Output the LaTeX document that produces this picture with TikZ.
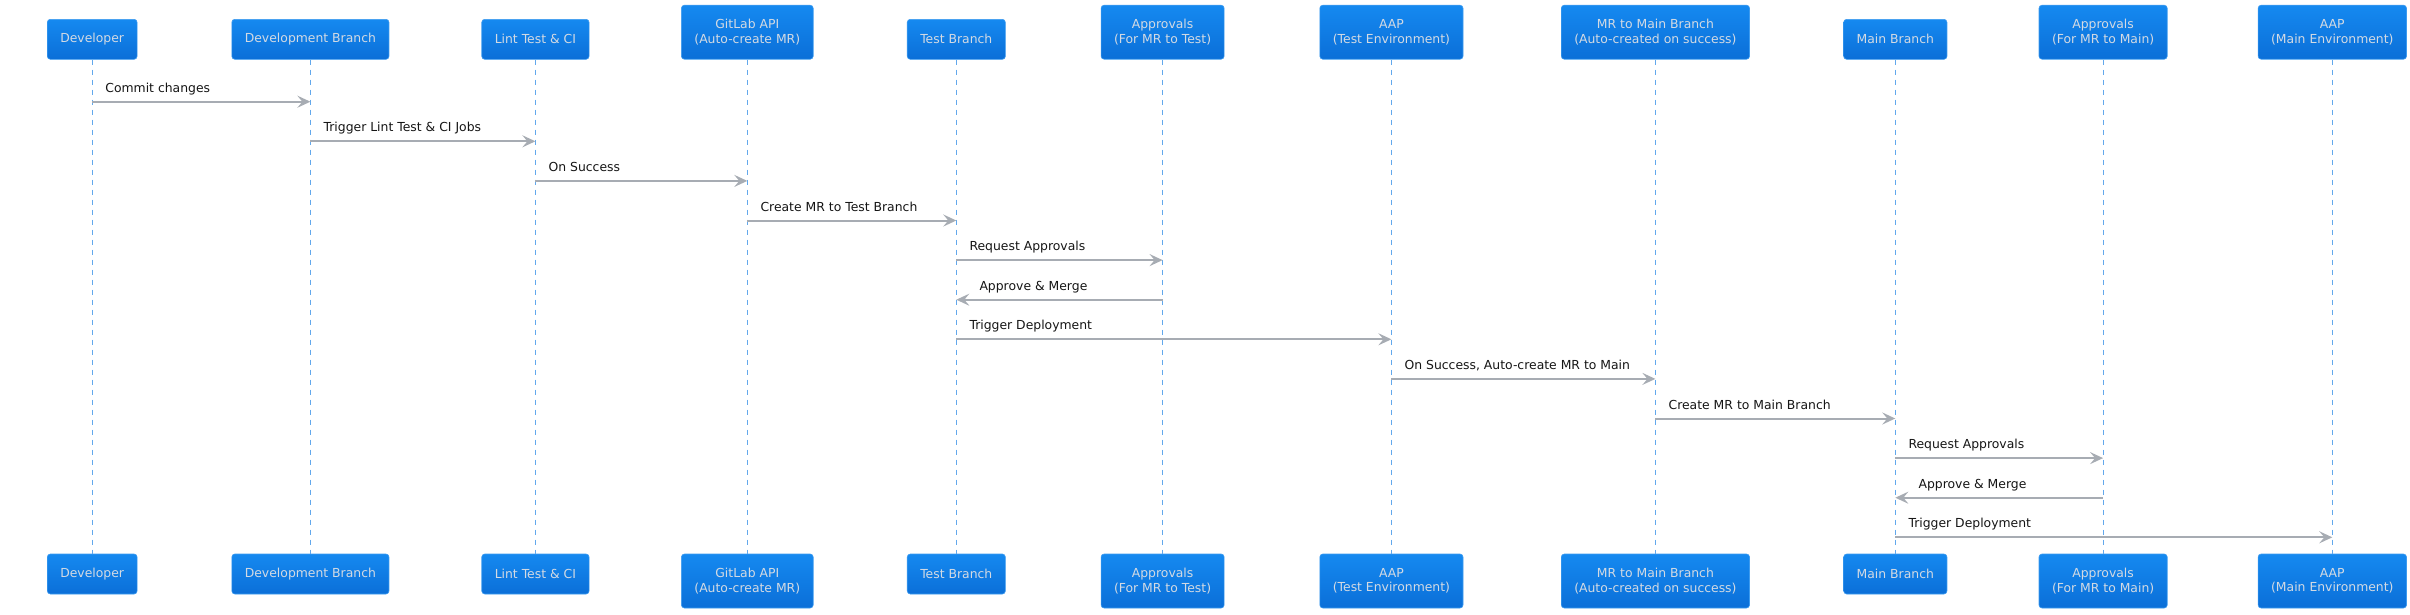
\documentclass[tikz,border=0pt]{standalone}
\usepackage{fontspec}
\setmainfont{DejaVu Sans}
\usetikzlibrary{arrows.meta,calc}
\definecolor{boxtop}{HTML}{1589F0}
\definecolor{boxbot}{HTML}{0B6FD8}
\definecolor{boxline}{HTML}{3D9BEF}
\definecolor{boxtext}{HTML}{D3DAE3}
\definecolor{lifeblue}{HTML}{62A8EC}
\definecolor{arrowgray}{HTML}{A7ACB3}
\definecolor{msgtext}{HTML}{151515}
\begin{document}
\begin{tikzpicture}[x=1pt,y=-1pt,
  actor/.style={rounded corners=3pt, top color=boxtop, bottom color=boxbot, draw=boxline, line width=0.6pt, text=boxtext, font=\fontsize{12.4}{14.5}\selectfont, align=center, inner xsep=13pt, inner ysep=0pt, minimum height=40pt},
  actortwo/.style={actor, minimum height=54pt},
  life/.style={draw=lifeblue, line width=1pt, dash pattern=on 5pt off 5pt},
  msg/.style={draw=arrowgray, line width=2pt, -{Stealth[length=13pt,width=12pt,inset=5pt]}},
  lbl/.style={font=\fontsize{12.4}{14.5}\selectfont, text=msgtext, inner sep=0pt, anchor=base west}]
\useasboundingbox (0,0) rectangle (2410,614);

% top actors
\node[actor]    (t1)  at (92.2,39.3)   {Developer};
\node[actor]    (t2)  at (310.4,39.3)  {Development Branch};
\node[actor]    (t3)  at (535.4,39.3)  {Lint Test \& CI};
\node[actortwo] (t4)  at (747.3,32.2)  {GitLab API\\(Auto-create MR)};
\node[actor]    (t5)  at (956.3,39.3)  {Test Branch};
\node[actortwo] (t6)  at (1162.6,32.2) {Approvals\\(For MR to Test)};
\node[actortwo] (t7)  at (1391.4,32.2) {AAP\\(Test Environment)};
\node[actortwo] (t8)  at (1655.4,32.2) {MR to Main Branch\\(Auto-created on success)};
\node[actor]    (t9)  at (1895.3,39.3) {Main Branch};
\node[actortwo] (t10) at (2103.1,32.2) {Approvals\\(For MR to Main)};
\node[actortwo] (t11) at (2332.3,32.2) {AAP\\(Main Environment)};

% bottom actors
\node[actor]    (b1)  at (92.2,574)   {Developer};
\node[actor]    (b2)  at (310.4,574)  {Development Branch};
\node[actor]    (b3)  at (535.4,574)  {Lint Test \& CI};
\node[actortwo] (b4)  at (747.3,581)  {GitLab API\\(Auto-create MR)};
\node[actor]    (b5)  at (956.3,574)  {Test Branch};
\node[actortwo] (b6)  at (1162.6,581) {Approvals\\(For MR to Test)};
\node[actortwo] (b7)  at (1391.4,581) {AAP\\(Test Environment)};
\node[actortwo] (b8)  at (1655.4,581) {MR to Main Branch\\(Auto-created on success)};
\node[actor]    (b9)  at (1895.3,574) {Main Branch};
\node[actortwo] (b10) at (2103.1,581) {Approvals\\(For MR to Main)};
\node[actortwo] (b11) at (2332.3,581) {AAP\\(Main Environment)};

% lifelines
\foreach \i in {1,...,11} {
  \draw[life] (t\i.south) -- (b\i.north);
}

% message rows
\foreach \r in {1,...,12} {
  \coordinate (r\r) at (0,{101.7+39.6*(\r-1)});
}

\newcommand{\fwd}[4]{% from, to, row, text
  \draw[msg] (#1 |- r#3) -- (#2 |- r#3);
  \node[lbl] at ($(#1 |- r#3)+(13,-9.4)$) {#4};
}
\newcommand{\bwd}[4]{% from, to, row, text
  \draw[msg] (#1 |- r#3) -- (#2 |- r#3);
  \node[lbl] at ($(#2 |- r#3)+(23,-9.4)$) {#4};
}

\fwd{t1}{t2}{1}{Commit changes}
\fwd{t2}{t3}{2}{Trigger Lint Test \& CI Jobs}
\fwd{t3}{t4}{3}{On Success}
\fwd{t4}{t5}{4}{Create MR to Test Branch}
\fwd{t5}{t6}{5}{Request Approvals}
\bwd{t6}{t5}{6}{Approve \& Merge}
\fwd{t5}{t7}{7}{Trigger Deployment}
\fwd{t7}{t8}{8}{On Success, Auto-create MR to Main}
\fwd{t8}{t9}{9}{Create MR to Main Branch}
\fwd{t9}{t10}{10}{Request Approvals}
\bwd{t10}{t9}{11}{Approve \& Merge}
\fwd{t9}{t11}{12}{Trigger Deployment}
\end{tikzpicture}
\end{document}
